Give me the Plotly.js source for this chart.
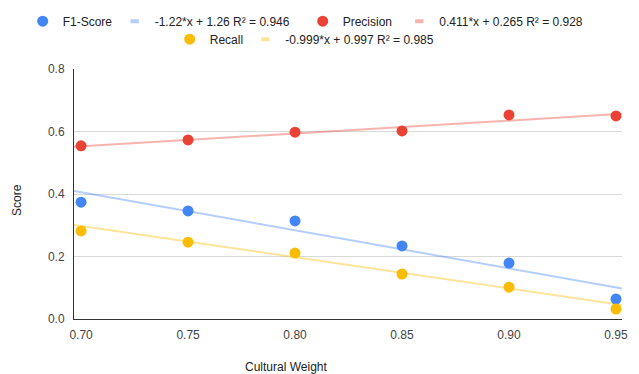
<!DOCTYPE html>
<html><head><meta charset="utf-8">
<script src="https://cdn.plot.ly/plotly-3.0.1.min.js"></script>
<style>html,body{margin:0;padding:0;background:#fff}#chart{width:639px;height:374px}</style>
</head><body><div id="chart"></div>
<script>
const culturalWeight = [0.70, 0.75, 0.80, 0.85, 0.90, 0.95];
const f1Score   = [0.374, 0.346, 0.314, 0.234, 0.179, 0.064];
const precision = [0.554, 0.573, 0.598, 0.602, 0.653, 0.650];
const recall    = [0.282, 0.246, 0.211, 0.144, 0.102, 0.032];
const seriesNames = ['F1-Score', 'Precision', 'Recall'];
const trendSlopes = [-1.22, 0.411, -0.999];
const trendIntercepts = [1.26, 0.265, 0.997];
const trendLabels = ['-1.22*x + 1.26 R² = 0.946', '0.411*x + 0.265 R² = 0.928', '-0.999*x + 0.997 R² = 0.985'];
const yTicks = [0, 0.2, 0.4, 0.6, 0.8];
const xTicks = [0.70, 0.75, 0.80, 0.85, 0.90, 0.95];

const colors = ['#4285F4', '#EA4335', '#FBBC04'];
const trendColors = ['rgba(66,133,244,0.4)', 'rgba(234,67,53,0.4)', 'rgba(251,188,4,0.4)'];
const xRange = [0.6967, 0.9528];
const series = [f1Score, precision, recall];
// one single-entry legend per key, placed like the reference's two centred rows
const markLegend = ['legend', 'legend3', 'legend5'];
const keyLegend = ['legend2', 'legend4', 'legend6'];
const legendPos = {
  legend:  [0.0355, 0.982], legend2: [0.1795, 0.982], legend3: [0.4737, 0.982], legend4: [0.6249, 0.982],
  legend5: [0.2656, 0.934], legend6: [0.3839, 0.934]
};

const lines = [], marks = [], keys = [];
series.forEach((vals, i) => {
  lines.push({
    x: xRange, y: xRange.map(x => trendSlopes[i] * x + trendIntercepts[i]),
    type: 'scatter', mode: 'lines', showlegend: false, hoverinfo: 'skip',
    line: {color: trendColors[i], width: 2}
  });
  marks.push({
    x: culturalWeight, y: vals, type: 'scatter', mode: 'markers', name: seriesNames[i],
    marker: {color: colors[i], size: 11}, legend: markLegend[i], cliponaxis: false
  });
  keys.push({
    x: [null], y: [null], type: 'scatter', mode: 'markers', name: trendLabels[i],
    marker: {symbol: 'line-ew', size: 6, color: trendColors[i], line: {color: trendColors[i], width: 4}},
    legend: keyLegend[i]
  });
});

const layout = {
  width: 639, height: 374,
  margin: {l: 74, r: 17, t: 69, b: 55},
  paper_bgcolor: '#fff', plot_bgcolor: '#fff',
  font: {family: 'Liberation Sans, Arial, sans-serif', size: 12, color: '#444'},
  showlegend: true,
  xaxis: {range: xRange, tickvals: xTicks, ticktext: xTicks.map(v => v.toFixed(2)),
          showgrid: false, zeroline: false, showline: true, linecolor: '#333', linewidth: 1,
          ticks: '', ticklabelstandoff: 5, tickfont: {size: 12, color: '#444'}},
  yaxis: {range: [0, 0.8], tickvals: yTicks, ticktext: yTicks.map(v => v.toFixed(1)),
          showgrid: true, gridcolor: '#d9d9d9', zeroline: false, showline: true, linecolor: '#333', linewidth: 1,
          ticks: '', ticklabelstandoff: 6, tickfont: {size: 12, color: '#444'}},
  annotations: [
    {text: 'Cultural Weight', xref: 'paper', yref: 'paper', x: 0.387, y: 0, yshift: -48,
     xanchor: 'center', yanchor: 'middle', showarrow: false, font: {size: 12, color: '#222'}},
    {text: 'Score', xref: 'paper', yref: 'paper', x: 0, xshift: -57, y: 0.476, textangle: -90,
     xanchor: 'center', yanchor: 'middle', showarrow: false, font: {size: 12, color: '#222'}}
  ]
};
Object.keys(legendPos).forEach(k => {
  layout[k] = {orientation: 'h', x: legendPos[k][0], xref: 'container', xanchor: 'left',
    y: legendPos[k][1], yref: 'container', yanchor: 'top',
    font: {size: 12, color: '#222'}, itemwidth: 30, bgcolor: 'rgba(0,0,0,0)'};
});
Plotly.newPlot('chart', lines.concat(marks, keys), layout, {staticPlot: true});
</script></body></html>
